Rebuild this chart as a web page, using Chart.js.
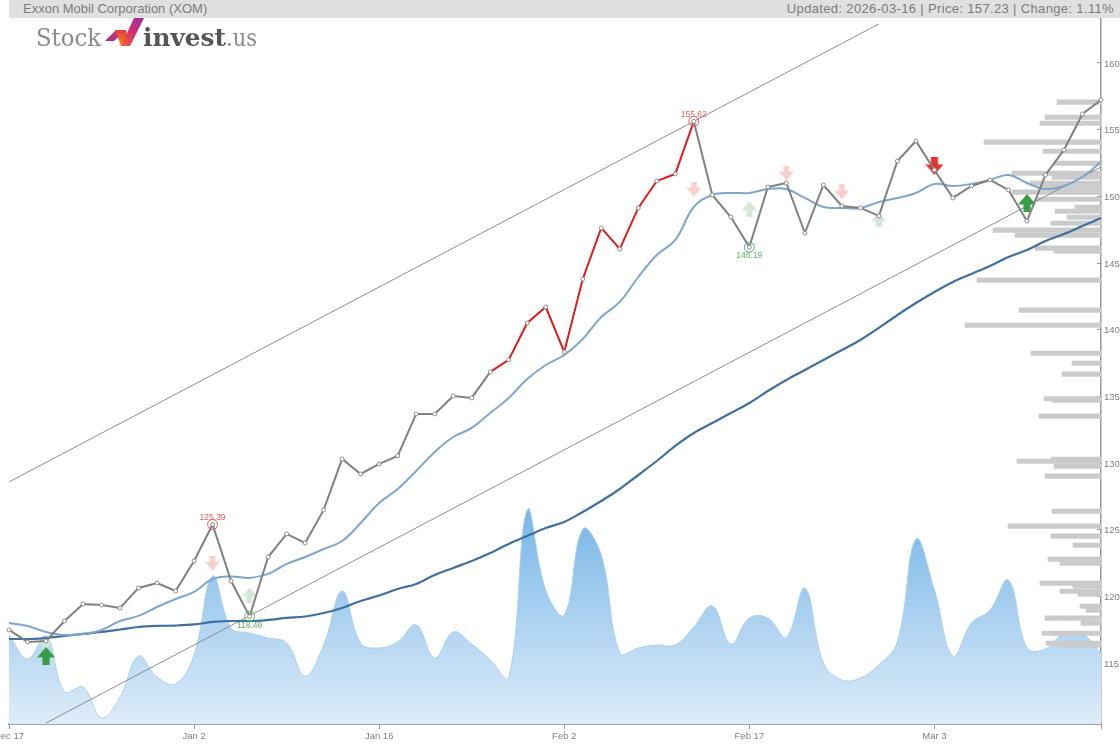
<!DOCTYPE html>
<html>
<head>
<meta charset="utf-8">
<title>Exxon Mobil Corporation (XOM)</title>
<script src="https://cdn.jsdelivr.net/npm/chart.js@4"></script>
<style>
    html, body { margin: 0; padding: 0; background: #fff; overflow: hidden; }
    #wrap { position: relative; width: 1120px; height: 747px; font-family: "Liberation Sans", Arial, sans-serif; }
    #price-chart { position: absolute; left: 0; top: 0; }
    #header { position: absolute; left: 9px; right: 0; top: 0; height: 18px; background: #e0e0e0; color: #7c7c7c; font-size: 13px; line-height: 18px; }
    #header .name { position: absolute; left: 14px; }
    #header .stats { position: absolute; right: 6px; letter-spacing: 0.35px; }
    #logo { position: absolute; left: 0; top: 0; width: 270px; height: 56px; }
</style>
</head>
<body>
<div id="wrap">
    <canvas id="price-chart" width="1120" height="747"></canvas>
    <div id="header">
        <span class="name">Exxon Mobil Corporation (XOM)</span>
        <span class="stats">Updated: 2026-03-16 | Price: 157.23 | Change: 1.11%</span>
    </div>
    <svg id="logo" viewBox="0 0 270 56">
        <defs>
            <linearGradient id="logo-left" x1="0" y1="1" x2="1" y2="0">
                <stop offset="0" stop-color="#a0308f"/>
                <stop offset="1" stop-color="#d92f6e"/>
            </linearGradient>
            <linearGradient id="logo-mid" x1="0" y1="0" x2="0" y2="1">
                <stop offset="0" stop-color="#e0403a"/>
                <stop offset="1" stop-color="#f58a1f"/>
            </linearGradient>
            <linearGradient id="logo-right" x1="0" y1="1" x2="1" y2="0">
                <stop offset="0" stop-color="#f0662a"/>
                <stop offset="0.5" stop-color="#d42c78"/>
                <stop offset="1" stop-color="#9a2f9c"/>
            </linearGradient>
        </defs>
        <text x="36" y="46" font-family="DejaVu Serif" font-size="24" fill="#8a8a8a" textLength="65" lengthAdjust="spacingAndGlyphs">Stock</text>
        <polygon points="105,41 116,30 126,30 114,41" fill="url(#logo-left)"/>
        <polygon points="115,30 126,30 130,46 121,46" fill="url(#logo-mid)"/>
        <polygon points="121,46 134,18 144,18 130,46" fill="url(#logo-right)"/>
        <text x="143" y="46" font-family="DejaVu Serif" font-weight="bold" font-size="24" fill="#555" textLength="83" lengthAdjust="spacingAndGlyphs">invest</text>
        <text x="226" y="46" font-family="DejaVu Serif" font-size="24" fill="#8a8a8a" textLength="31" lengthAdjust="spacingAndGlyphs">.us</text>
    </svg>
</div>
<script>
// Trading days shown on the x axis
const dates = [
    'Dec 17', 'Dec 18', 'Dec 19', 'Dec 22', 'Dec 23', 'Dec 24', 'Dec 26', 'Dec 29', 'Dec 30', 'Dec 31',
    'Jan 2', 'Jan 5', 'Jan 6', 'Jan 7', 'Jan 8', 'Jan 9', 'Jan 12', 'Jan 13', 'Jan 14', 'Jan 15',
    'Jan 16', 'Jan 20', 'Jan 21', 'Jan 22', 'Jan 23', 'Jan 26', 'Jan 27', 'Jan 28', 'Jan 29', 'Jan 30',
    'Feb 2', 'Feb 3', 'Feb 4', 'Feb 5', 'Feb 6', 'Feb 9', 'Feb 10', 'Feb 11', 'Feb 12', 'Feb 13',
    'Feb 17', 'Feb 18', 'Feb 19', 'Feb 20', 'Feb 23', 'Feb 24', 'Feb 25', 'Feb 26', 'Feb 27', 'Mar 2',
    'Mar 3', 'Mar 4', 'Mar 5', 'Mar 6', 'Mar 9', 'Mar 10', 'Mar 11', 'Mar 12', 'Mar 13', 'Mar 16'
];
const tickDates = ['Dec 17', 'Jan 2', 'Jan 16', 'Feb 2', 'Feb 17', 'Mar 3', 'Mar 16'];
const labelledDates = ['Dec 17', 'Jan 2', 'Jan 16', 'Feb 2', 'Feb 17', 'Mar 3'];

const closePrices = [
    117.48, 116.58, 116.65, 118.15, 119.43, 119.35, 119.13, 120.63, 121.0, 120.4,
    122.65, 125.39, 121.15, 118.49, 122.95, 124.68, 124.0, 126.48, 130.3, 129.18,
    129.93, 130.53, 133.68, 133.68, 135.03, 134.88, 136.83, 137.73, 140.5, 141.7,
    138.33, 143.8, 147.63, 146.05, 149.13, 151.15, 151.68, 155.62, 150.1, 148.45,
    146.19, 150.7, 151.0, 147.25, 150.85, 149.28, 149.13, 148.53, 152.65, 154.15,
    151.98, 149.88, 150.78, 151.23, 150.48, 148.15, 151.6, 153.48, 156.18, 157.23
];
const shortAverage = [
    118.0, 117.78, 117.33, 117.1, 117.18, 117.48, 118.15, 118.53, 119.2, 119.8,
    120.33, 121.3, 121.49, 121.38, 121.68, 122.43, 122.95, 123.55, 124.15, 125.5,
    127.0, 128.05, 129.4, 130.83, 131.95, 132.63, 133.75, 134.88, 136.3, 137.35,
    138.1, 139.3, 140.95, 142.08, 143.95, 145.6, 146.73, 149.2, 150.1, 150.25,
    150.25, 150.55, 150.55, 149.88, 149.2, 149.13, 149.13, 149.58, 149.88, 150.25,
    150.93, 150.78, 150.93, 151.23, 151.6, 151.0, 150.55, 150.78, 151.45, 152.58
];
const longAverage = [
    116.8, 116.8, 116.88, 117.03, 117.18, 117.33, 117.51, 117.7, 117.78, 117.81,
    117.89, 118.08, 118.15, 118.15, 118.23, 118.38, 118.49, 118.75, 119.13, 119.65,
    120.06, 120.55, 120.93, 121.6, 122.13, 122.65, 123.25, 123.93, 124.53, 125.13,
    125.58, 126.33, 127.15, 128.05, 129.1, 130.15, 131.28, 132.25, 133.0, 133.75,
    134.5, 135.4, 136.23, 136.98, 137.73, 138.48, 139.23, 140.13, 141.1, 142.0,
    142.83, 143.58, 144.18, 144.78, 145.45, 145.98, 146.65, 147.18, 147.78, 148.38
];
const dailyVolume = [
    8.9, 6.5, 8.8, 3.2, 3.7, 0.6, 2.7, 6.8, 4.7, 4.0,
    6.9, 14.8, 9.6, 9.1, 8.6, 8.1, 4.8, 7.9, 13.3, 8.1,
    7.6, 8.2, 9.9, 6.6, 9.2, 8.0, 6.4, 4.6, 21.4, 13.4,
    10.9, 19.5, 16.9, 7.1, 7.6, 7.9, 7.9, 9.7, 11.8, 8.0,
    10.6, 10.6, 8.7, 13.6, 6.1, 4.4, 4.6, 5.9, 8.2, 18.5,
    13.4, 6.8, 10.1, 11.4, 14.4, 7.6, 7.5, 9.1, 9.0, 7.1
];

// Volume at price, drawn as bars growing left from the price axis
const profilePrices = [
    157.23, 156.1, 155.65, 154.23, 153.55, 152.65, 151.9, 151.6, 151.15, 150.85,
    150.48, 149.95, 149.35, 149.05, 148.6, 148.15, 147.63, 147.25, 146.28, 146.05,
    143.88, 141.63, 140.5, 138.4, 137.65, 136.83, 134.98, 134.88, 133.68, 130.45,
    130.3, 129.93, 129.18, 126.55, 125.43, 124.68, 124.0, 122.95, 122.65, 121.15,
    120.93, 120.55, 120.33, 119.43, 119.13, 118.53, 118.15, 117.4, 116.65, 116.5
];
const profileVolume = [
    44, 56, 61, 117, 58, 47, 89, 49, 71, 61,
    89, 64, 26, 46, 34, 50, 108, 86, 66, 47,
    124, 82, 136, 70, 29, 39, 57, 49, 62, 50,
    84, 47, 56, 49, 93, 50, 28, 53, 41, 61,
    28, 41, 23, 21, 15, 56, 20, 59, 55, 41
];

// Trend channel end points
const upperChannel = [{ x: 'Dec 17', y: 128.58 }, { x: 'Feb 26', y: 162.93 }];
const lowerChannel = [{ x: 'Dec 19', y: 110.5 }, { x: 'Mar 16', y: 152.2 }];

// Red stretch of the close line
const rallyStart = 'Jan 27';
const rallyEnd = 'Feb 11';

// Turning points
const topPoints = [{ x: 'Jan 5', y: 125.39 }, { x: 'Feb 11', y: 155.62 }];
const bottomPoints = [{ x: 'Jan 7', y: 118.49 }, { x: 'Feb 17', y: 146.19 }];

// Buy and sell signals
const strongBuy = [{ x: 'Dec 19', y: 115.53 }, { x: 'Mar 10', y: 149.5 }];
const strongSell = [{ x: 'Mar 3', y: 152.28 }];
const weakBuy = [{ x: 'Dec 19', y: 116.5 }, { x: 'Jan 7', y: 120.1 }, { x: 'Feb 17', y: 149.05 }, { x: 'Feb 26', y: 148.23 }];
const weakSell = [{ x: 'Jan 5', y: 122.5 }, { x: 'Feb 11', y: 150.55 }, { x: 'Feb 19', y: 151.75 }, { x: 'Feb 24', y: 150.33 }];

const priceTickStep = 5;
const priceMin = 110.425;
const priceMax = 163.375;
const volumeMax = 70.6;
const profileMax = 1092;

const tickFont = { family: '"Liberation Sans", Arial, sans-serif', size: 9.5 };

// Block arrow used as a point marker
function makeArrow(color, size, up) {
    const c = document.createElement('canvas');
    c.width = size;
    c.height = size;
    const g = c.getContext('2d');
    if (!up) {
        g.translate(0, size);
        g.scale(1, -1);
    }
    g.fillStyle = color;
    g.beginPath();
    g.moveTo(size / 2, 0);
    g.lineTo(size, size * 0.58);
    g.lineTo(size * 0.7, size * 0.58);
    g.lineTo(size * 0.7, size);
    g.lineTo(size * 0.3, size);
    g.lineTo(size * 0.3, size * 0.58);
    g.lineTo(0, size * 0.58);
    g.closePath();
    g.fill();
    return c;
}

function volumeGradient(context) {
    const { ctx, chartArea, scales } = context.chart;
    if (!chartArea) return '#a8cfee';
    const gradient = ctx.createLinearGradient(0, scales.y2.getPixelForValue(21.4), 0, chartArea.bottom);
    gradient.addColorStop(0, '#78b6e6');
    gradient.addColorStop(1, '#deecf9');
    return gradient;
}

// Writes the price next to each circled turning point
const turningPointLabels = {
    id: 'turningPointLabels',
    afterDatasetsDraw(chart) {
        const { ctx, scales } = chart;
        ctx.save();
        ctx.font = '8.5px "Liberation Sans", Arial, sans-serif';
        ctx.textAlign = 'center';
        ctx.textBaseline = 'middle';
        ctx.fillStyle = '#e8605f';
        topPoints.forEach(p => {
            ctx.fillText(p.y.toFixed(2), scales.x.getPixelForValue(dates.indexOf(p.x)), scales.y.getPixelForValue(p.y) - 7);
        });
        ctx.fillStyle = '#5cb36a';
        bottomPoints.forEach(p => {
            ctx.fillText(p.y.toFixed(2), scales.x.getPixelForValue(dates.indexOf(p.x)), scales.y.getPixelForValue(p.y) + 9);
        });
        ctx.restore();
    }
};

function markerSet(data, style, order) {
    return {
        type: 'line',
        data: data,
        showLine: false,
        pointStyle: style,
        pointRadius: 8,
        pointHoverRadius: 8,
        order: order,
        clip: false
    };
}

const rallyFrom = dates.indexOf(rallyStart);
const rallyTo = dates.indexOf(rallyEnd);

new Chart(document.getElementById('price-chart'), {
    type: 'line',
    data: {
        labels: dates,
        datasets: [
            {
                label: 'Close',
                data: closePrices,
                borderColor: '#808080',
                borderWidth: 2,
                tension: 0,
                pointRadius: 2,
                pointBackgroundColor: '#fff',
                pointBorderColor: '#8c8c8c',
                pointBorderWidth: 1,
                segment: {
                    borderColor: ctx => (ctx.p0DataIndex >= rallyFrom && ctx.p0DataIndex < rallyTo) ? '#dd1c1c' : undefined
                },
                clip: false,
                order: 1
            },
            {
                label: 'Highs',
                data: topPoints,
                showLine: false,
                pointRadius: 5,
                pointBackgroundColor: 'transparent',
                pointBorderColor: '#e8605f',
                pointBorderWidth: 1,
                order: 0
            },
            {
                label: 'Lows',
                data: bottomPoints,
                showLine: false,
                pointRadius: 5,
                pointBackgroundColor: 'transparent',
                pointBorderColor: '#5cb36a',
                pointBorderWidth: 1,
                order: 0
            },
            {
                label: 'Short average',
                data: shortAverage,
                borderColor: '#7fa6cc',
                borderWidth: 2,
                tension: 0.4,
                pointRadius: 0,
                order: 2
            },
            {
                label: 'Long average',
                data: longAverage,
                borderColor: '#3f709f',
                borderWidth: 2.2,
                cubicInterpolationMode: 'monotone',
                pointRadius: 0,
                order: 3
            },
            Object.assign(markerSet(strongBuy, makeArrow('#3a9c44', 18, true), 4), { label: 'Buy' }),
            Object.assign(markerSet(strongSell, makeArrow('#e0332f', 18, false), 4), { label: 'Sell' }),
            Object.assign(markerSet(weakBuy, makeArrow('#d3e8d6', 15, true), 5), { label: 'Weak buy' }),
            Object.assign(markerSet(weakSell, makeArrow('#f8cfcf', 15, false), 5), { label: 'Weak sell' }),
            {
                label: 'Upper channel',
                data: upperChannel,
                borderColor: '#8c8c8c',
                borderWidth: 1,
                pointRadius: 0,
                order: 6
            },
            {
                label: 'Lower channel',
                data: lowerChannel,
                borderColor: '#8c8c8c',
                borderWidth: 1,
                pointRadius: 0,
                order: 6
            },
            {
                type: 'bar',
                label: 'Volume at price',
                indexAxis: 'y',
                xAxisID: 'xProfile',
                yAxisID: 'y',
                data: profilePrices.map((price, i) => ({ x: profileVolume[i], y: price })),
                backgroundColor: '#cbcbcb',
                barThickness: 4.4,
                order: 7
            },
            {
                label: 'Volume',
                data: dailyVolume,
                yAxisID: 'y2',
                borderColor: '#a9d0ee',
                borderWidth: 1,
                backgroundColor: volumeGradient,
                fill: 'origin',
                tension: 0.4,
                pointRadius: 0,
                order: 8
            }
        ]
    },
    options: {
        responsive: false,
        animation: false,
        events: [],
        layout: { padding: { left: 9, right: 0, top: 18, bottom: 0 } },
        plugins: {
            legend: { display: false },
            tooltip: { enabled: false }
        },
        scales: {
            x: {
                type: 'category',
                offset: false,
                grid: { drawOnChartArea: false, tickLength: 5, tickColor: '#999', offset: false },
                border: { color: '#8fa9bf', width: 2 },
                ticks: {
                    autoSkip: false,
                    maxRotation: 0,
                    padding: 2,
                    color: '#808080',
                    font: tickFont,
                    callback: value => labelledDates.includes(dates[value]) ? dates[value] : ''
                },
                afterBuildTicks: axis => {
                    axis.ticks = axis.ticks.filter(t => tickDates.includes(dates[t.value]));
                },
                afterFit: axis => {
                    axis.paddingLeft = 0;
                    axis.paddingRight = 0;
                    axis.height = 23;
                }
            },
            y: {
                type: 'linear',
                position: 'right',
                offset: false,
                z: 1,
                min: priceMin,
                max: priceMax,
                grid: { drawOnChartArea: false, tickLength: -4, tickColor: '#999', offset: false },
                border: { color: '#999', width: 1.5 },
                ticks: {
                    stepSize: priceTickStep,
                    includeBounds: false,
                    padding: 7,
                    labelOffset: 1,
                    color: '#808080',
                    font: tickFont,
                    callback: value => String(value)
                },
                afterFit: axis => {
                    axis.paddingTop = 0;
                    axis.paddingBottom = 0;
                    axis.width = 19;
                }
            },
            y2: { type: 'linear', display: false, min: 0, max: volumeMax },
            xProfile: { type: 'linear', axis: 'x', display: false, reverse: true, min: 0, max: profileMax }
        }
    },
    plugins: [turningPointLabels]
});
</script>
</body>
</html>
